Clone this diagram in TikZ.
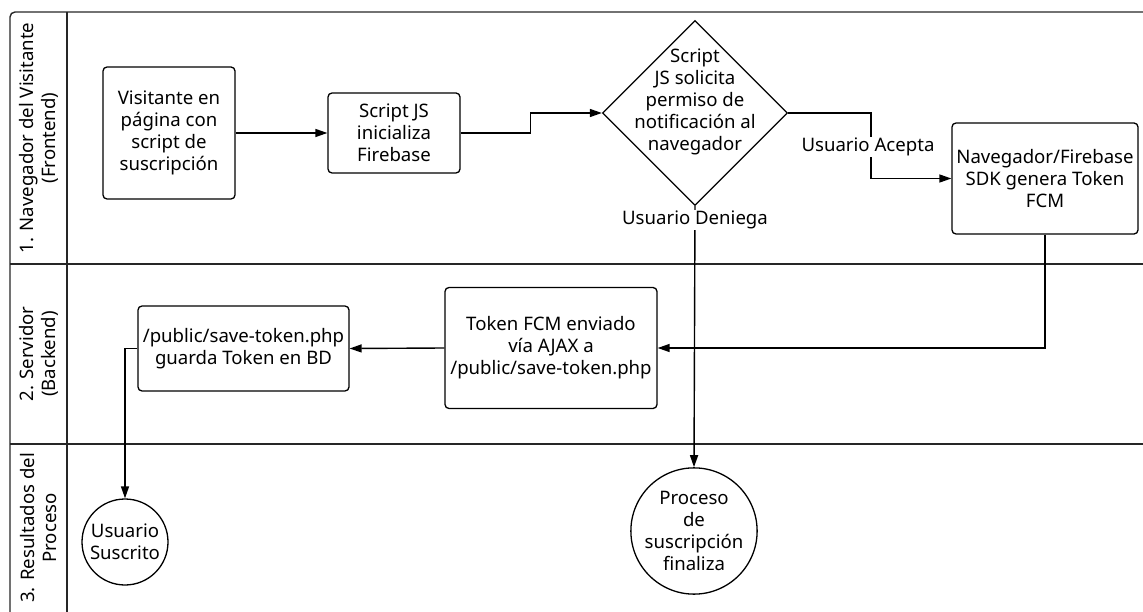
\documentclass[tikz,border=0pt]{standalone}
\usepackage{fontspec}
\setmainfont{Noto Sans}
\usetikzlibrary{shapes.geometric,arrows.meta}
\begin{document}
\begin{tikzpicture}[x=1pt,y=-1pt,
  every node/.style={font=\fontsize{18.6}{22}\selectfont, align=center},
  frame/.style={line width=1.4pt, draw=black!85},
  proc/.style={draw, line width=1.3pt, rounded corners=4pt, inner sep=1pt},
  decis/.style={draw, diamond, line width=1.3pt, inner sep=0pt, minimum width=185pt, minimum height=185pt, aspect=1},
  term/.style={draw, circle, line width=1.3pt, inner sep=0pt},
  arr/.style={line width=1.4pt, -{Triangle[length=12pt,width=8pt]}},
  lbl/.style={fill=white, inner sep=1pt},
  lane/.style={rotate=90}
]
\useasboundingbox (0,0) rectangle (1143,612);
% frame
\draw[frame, rounded corners=5pt] (10,612) -- (10,12) -- (1143,12);
\draw[frame] (67,12) -- (67,612);
\draw[frame] (10,264) -- (1143,264);
\draw[frame] (10,444) -- (1143,444);
% lane labels
\node[lane] (l1) at (38.5,138) {1. Navegador del Visitante\\(Frontend)};
\node[lane] (l2) at (38.5,354) {2. Servidor\\(Backend)};
\node[lane] (l3) at (38.5,528) {3. Resultados del\\Proceso};
% nodes
\node[proc, minimum width=132pt, minimum height=132pt] (b1) at (169,133) {Visitante en\\página con\\script de\\suscripción};
\node[proc, minimum width=132pt, minimum height=80pt] (b2) at (394,133) {Script JS\\inicializa\\Firebase};
\node[decis] (d) at (695,113) {};
\node (dt) at (695,102) {Script\\JS solicita\\permiso de\\notificación al\\navegador};
\node[proc, minimum width=186pt, minimum height=111pt] (b3) at (1045,178.5) {Navegador/Firebase\\SDK genera Token\\FCM};
\node[proc, minimum width=212pt, minimum height=121pt] (b4) at (551,348) {Token FCM enviado\\vía AJAX a\\/public/save-token.php};
\node[proc, minimum width=211pt, minimum height=85pt] (b5) at (243.5,348.5) {/public/save-token.php\\guarda Token en BD};
\node[term, minimum size=86pt] (c1) at (125,542) {Usuario\\Suscrito};
\node[term, minimum size=120pt] (c2) at (694,531) {Proceso\\de\\suscripción\\finaliza};
% connectors
\draw[arr] (b1.east) -- (b2.west);
\draw[arr] (b2.east) -- ++(70,0) |- (d.west);
\draw[arr] (d.east) -- ++(83,0) |- (b3.west);
\node[lbl] (la) at (868,147) {Usuario Acepta};
\draw[arr] (d.south) -- (c2.north);
\node[lbl] (ld) at (695,220) {Usuario Deniega};
\draw[arr] (b3.south) |- (b4.east);
\draw[arr] (b4.west) -- (b5.east);
\draw[arr] (b5.west) -| (c1.north);
\end{tikzpicture}
\end{document}
